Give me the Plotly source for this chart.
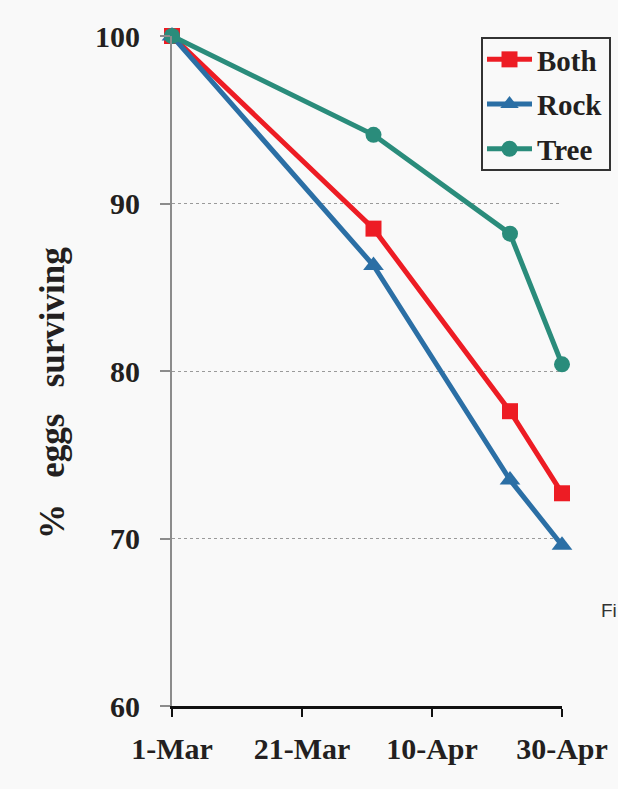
import plotly.graph_objects as go

dates = ["2013-03-01", "2013-04-01", "2013-04-22", "2013-04-30"]
both = [100, 88.5, 77.6, 72.7]
rock = [100, 86.3, 73.5, 69.6]
tree = [100, 94.1, 88.2, 80.4]

x_tickvals = ["2013-03-01", "2013-03-21", "2013-04-10", "2013-04-30"]
x_ticktext = ["1-Mar", "21-Mar", "10-Apr", "30-Apr"]
y_tickvals = [60, 70, 80, 90, 100]

serif = "Liberation Serif, Times New Roman, serif"

series = [
    ("Both", both, "#ED1C24", "square", 16),
    ("Rock", rock, "#2B6FA5", "triangle-up", 18),
    ("Tree", tree, "#2A8C7B", "circle", 16),
]

fig = go.Figure()
for name, vals, color, sym, size in series:
    fig.add_trace(go.Scatter(
        x=dates, y=vals, name=name, mode="lines+markers",
        line=dict(color=color, width=5),
        marker=dict(symbol=sym, size=size, color=color),
        cliponaxis=False, legendgroup=name,
    ))

W, H = 618, 789
L, R, T, B = 172, 56, 36, 83
pw = W - L - R
ph = H - T - B


def px_x(p):
    return (p - L) / pw


def px_y(p):
    return (H - B - p) / ph


fig.update_layout(
    width=W, height=H,
    margin=dict(l=L, r=R, t=T, b=B, autoexpand=False),
    paper_bgcolor="#f9f9f9", plot_bgcolor="#f9f9f9",
    font=dict(family=serif, size=30, color="#231f20", weight="bold"),
    showlegend=True,
    legend=dict(
        x=px_x(482), y=px_y(34),
        xanchor="left", yanchor="top",
        borderwidth=0,
        bgcolor="rgba(0,0,0,0)",
        font=dict(family=serif, size=29, color="#231f20", weight="bold"),
        tracegroupgap=4, traceorder="grouped",
        itemwidth=45,
    ),
    xaxis=dict(
        type="date",
        range=["2013-03-01", "2013-04-30"],
        tickvals=x_tickvals, ticktext=x_ticktext,
        showgrid=False, zeroline=False, automargin=False,
        showline=True, linecolor="#111111", linewidth=2.5,
        ticks="outside", ticklen=8, tickwidth=2, tickcolor="#111111",
        ticklabelstandoff=6,
        tickfont=dict(family=serif, size=30, color="#231f20", weight="bold"),
    ),
    yaxis=dict(
        range=[60, 100],
        tickvals=y_tickvals, automargin=False,
        showgrid=True, gridcolor="#9a9a9a", griddash="dot", gridwidth=1,
        zeroline=False,
        showline=True, linecolor="#8c8c8c", linewidth=2,
        ticks="outside", ticklen=10, tickwidth=2, tickcolor="#8c8c8c",
        ticklabelstandoff=14,
        tickfont=dict(family=serif, size=30, color="#231f20", weight="bold"),
    ),
)

# legend frame
fig.add_shape(
    type="rect", xref="paper", yref="paper",
    x0=px_x(482), x1=px_x(610), y0=px_y(170), y1=px_y(38),
    line=dict(color="#333333", width=2), fillcolor="rgba(0,0,0,0)",
    layer="above",
)

fig.add_annotation(
    text="%\u00a0\u00a0\u00a0eggs\u00a0\u00a0\u00a0surviving",
    x=px_x(52), y=px_y(393), xref="paper", yref="paper",
    textangle=-90, showarrow=False,
    font=dict(family=serif, size=35, color="#231f20", weight="bold"),
    xanchor="center", yanchor="middle",
)
fig.add_annotation(
    text="Fi",
    x=px_x(599), y=px_y(610), xref="paper", yref="paper",
    showarrow=False, xanchor="left", yanchor="middle",
    font=dict(family="Liberation Sans, Arial, sans-serif", size=19, color="#333333", weight="normal"),
)

fig.write_html("out.html", config={"displayModeBar": False},
               post_script="document.body.style.margin='0';")
